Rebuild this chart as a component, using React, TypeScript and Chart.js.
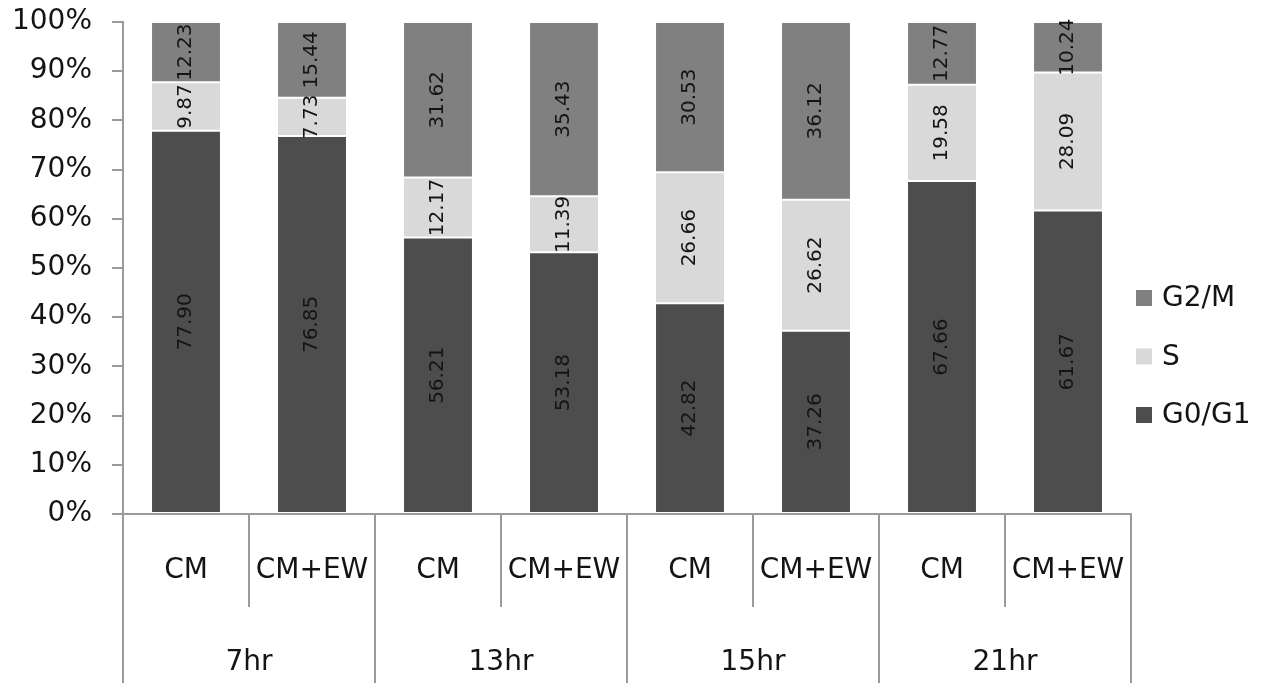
import { useEffect, useRef } from 'react';
import { Chart, registerables } from 'chart.js';

Chart.register(...registerables);

// Cell-cycle phase distribution (%) per treatment and time point
const subLabels = ['CM', 'CM+EW', 'CM', 'CM+EW', 'CM', 'CM+EW', 'CM', 'CM+EW'];
const groupLabels = ['7hr', '13hr', '15hr', '21hr'];

const g0g1Values = [77.9, 76.85, 56.21, 53.18, 42.82, 37.26, 67.66, 61.67];
const sValues = [9.87, 7.73, 12.17, 11.39, 26.66, 26.62, 19.58, 28.09];
const g2mValues = [12.23, 15.44, 31.62, 35.43, 30.53, 36.12, 12.77, 10.24];

const seriesNames = ['G0/G1', 'S', 'G2/M'];
const seriesColors = ['#4d4d4d', '#d9d9d9', '#808080'];

const yTicks = [0, 10, 20, 30, 40, 50, 60, 70, 80, 90, 100];

const FONT = 'DejaVu Sans';
const AXIS_GREY = '#9a9a9a';
const TEXT = '#141414';

// Rotated value labels centred inside each stacked segment
const segmentLabels = {
  id: 'segmentLabels',
  afterDatasetsDraw(chart: any) {
    const { ctx } = chart;
    chart.data.datasets.forEach((ds: any, di: number) => {
      const meta = chart.getDatasetMeta(di);
      meta.data.forEach((bar: any, i: number) => {
        const { x, y, base } = bar.getProps(['x', 'y', 'base'], true);
        const cy = (y + base) / 2;
        ctx.save();
        ctx.translate(x, cy);
        ctx.rotate(-Math.PI / 2);
        ctx.font = `20px "${FONT}"`;
        ctx.textAlign = 'center';
        ctx.textBaseline = 'middle';
        ctx.fillStyle = TEXT;
        ctx.fillText(Number(ds.data[i]).toFixed(2), 0, 0);
        ctx.restore();
      });
    });
  },
};

// Two-level category axis (treatment / time point) and right-hand legend
const groupedAxis = {
  id: 'groupedAxis',
  afterDraw(chart: any) {
    const { ctx, chartArea } = chart;
    const xs = chart.scales.x;
    const n = chart.data.labels.length;
    const perGroup = n / groupLabels.length;
    const catW = xs.getPixelForValue(1) - xs.getPixelForValue(0);
    const top = chartArea.bottom;
    const subBottom = top + 93;
    const bottom = chart.height;

    ctx.save();
    ctx.strokeStyle = AXIS_GREY;
    ctx.lineWidth = 2;
    for (let i = 0; i <= n; i++) {
      const bx = Math.round(xs.getPixelForValue(0) - catW / 2 + i * catW);
      const isGroupEdge = i % perGroup === 0;
      ctx.beginPath();
      ctx.moveTo(bx, top);
      ctx.lineTo(bx, isGroupEdge ? bottom : subBottom);
      ctx.stroke();
    }

    ctx.fillStyle = TEXT;
    ctx.font = `28px "${FONT}"`;
    ctx.textAlign = 'center';
    ctx.textBaseline = 'alphabetic';
    chart.data.labels.forEach((lab: string, i: number) => {
      ctx.fillText(lab, xs.getPixelForValue(i), top + 64);
    });
    groupLabels.forEach((lab, g) => {
      const gx =
        (xs.getPixelForValue(g * perGroup) + xs.getPixelForValue(g * perGroup + perGroup - 1)) / 2;
      ctx.fillText(lab, gx, top + 156);
    });

    // legend, top item is the top segment of the stack
    const items = chart.data.datasets.map((ds: any) => ({ label: ds.label, color: ds.backgroundColor })).reverse();
    const lx = chartArea.right + 5;
    const ly0 = 298;
    const step = 58.5;
    ctx.textAlign = 'left';
    ctx.textBaseline = 'middle';
    items.forEach((it: any, k: number) => {
      const cy = ly0 + k * step;
      ctx.fillStyle = it.color;
      ctx.fillRect(lx, cy - 8, 16, 16);
      ctx.fillStyle = TEXT;
      ctx.fillText(it.label, lx + 26, cy + 1);
    });
    ctx.restore();
  },
};

export default function App() {
  const canvasRef = useRef<HTMLCanvasElement | null>(null);

  useEffect(() => {
    if (!canvasRef.current) return;
    const seriesValues = [g0g1Values, sValues, g2mValues];
    const chart = new Chart(canvasRef.current, {
      type: 'bar',
      data: {
        labels: subLabels,
        datasets: seriesNames.map((name, k) => ({
          label: name,
          data: seriesValues[k],
          backgroundColor: seriesColors[k],
          borderColor: 'rgba(255,255,255,0.95)',
          borderWidth: 1,
          borderSkipped: false,
          categoryPercentage: 0.555,
          barPercentage: 1,
        })),
      },
      options: {
        animation: false,
        responsive: false,
        maintainAspectRatio: false,
        layout: { padding: { top: 22, right: 134, bottom: 0, left: 0 } },
        font: { family: FONT },
        plugins: {
          legend: { display: false },
          tooltip: { enabled: false },
        },
        scales: {
          x: {
            stacked: true,
            ticks: { display: false },
            grid: { display: false },
            border: { display: true, color: AXIS_GREY, width: 2 },
            afterFit: (s: any) => {
              s.height = 169;
              s.paddingLeft = 0;
              s.paddingRight = 0;
            },
          },
          y: {
            stacked: true,
            min: 0,
            max: 100,
            afterBuildTicks: (s: any) => {
              s.ticks = yTicks.map((v) => ({ value: v }));
            },
            ticks: {
              padding: 20,
              color: TEXT,
              font: { family: FONT, size: 28 },
              callback: (v: any) => `${v}%`,
            },
            grid: {
              drawOnChartArea: false,
              drawTicks: true,
              tickLength: 11,
              color: AXIS_GREY,
              lineWidth: 2,
            },
            border: { display: true, color: AXIS_GREY, width: 2 },
            afterFit: (s: any) => {
              s.width = 123;
              s.paddingTop = 0;
              s.paddingBottom = 0;
            },
          },
        },
      },
      plugins: [segmentLabels, groupedAxis],
    });
    return () => chart.destroy();
  }, []);

  return (
    <div style={{ position: 'absolute', left: 0, top: 0, width: 1265, height: 683, background: '#fff' }}>
      <canvas ref={canvasRef} width={1265} height={683} />
    </div>
  );
}
